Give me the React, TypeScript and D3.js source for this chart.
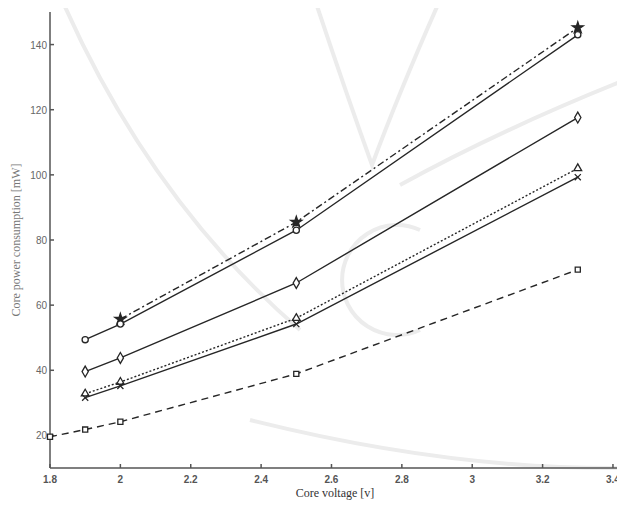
import { useEffect, useRef } from 'react';
import * as d3 from 'd3';

const xTicks = [1.8, 2, 2.2, 2.4, 2.6, 2.8, 3, 3.2, 3.4];
const yTicks = [20, 40, 60, 80, 100, 120, 140];

const starV = [2.0, 2.5, 3.3];
const starP = [55.7, 85.5, 145.2];
const voltages = [1.9, 2.0, 2.5, 3.3];
const circleP = [49.4, 54.2, 83.0, 143.0];
const diamondP = [39.6, 43.8, 66.8, 117.6];
const triangleP = [32.8, 36.4, 56.0, 102.0];
const crossP = [31.6, 35.2, 54.2, 99.3];
const squareV = [1.8, 1.9, 2.0, 2.5, 3.3];
const squareP = [19.6, 21.8, 24.2, 38.9, 70.9];

export default function App() {
  const svgRef = useRef<SVGSVGElement>(null);

  useEffect(() => {
    const svg = d3.select(svgRef.current);
    svg.selectAll('*').remove();

    const x = d3.scaleLinear().domain([1.8, 3.42]).range([50, 620]);
    const y = d3.scaleLinear().domain([10, 150]).range([468, 12]);
    const ink = '#262626';

    // faint watermark strokes
    const wm = svg.append('g').attr('fill', 'none').attr('stroke', '#ececec').attr('stroke-width', 4);
    wm.append('path').attr('d', 'M 62 0 Q 150 200 300 330');
    wm.append('path').attr('d', 'M 400 185 Q 500 130 625 80');
    wm.append('path').attr('d', 'M 250 420 Q 450 470 625 468');
    wm.append('path').attr('d', 'M 315 0 Q 345 90 372 165 Q 400 90 440 0');
    wm.append('path').attr('d', 'M 420 230 A 55 55 0 1 0 420 330');

    // axes
    const ax = svg.append('g').attr('stroke', '#555').attr('stroke-width', 1.5);
    ax.append('line').attr('x1', 50).attr('x2', 50).attr('y1', 12).attr('y2', 468);
    ax.append('line').attr('x1', 50).attr('x2', 625).attr('y1', 468).attr('y2', 468);
    ax.selectAll('.xt').data(xTicks).enter().append('line')
      .attr('x1', d => x(d)).attr('x2', d => x(d)).attr('y1', 468).attr('y2', 464);
    ax.selectAll('.yt').data(yTicks).enter().append('line')
      .attr('x1', 50).attr('x2', 54).attr('y1', d => y(d)).attr('y2', d => y(d));

    svg.selectAll('text.xl').data(xTicks).enter().append('text')
      .attr('class', 'xl')
      .attr('x', d => x(d)).attr('y', 483)
      .attr('text-anchor', 'middle')
      .attr('font-family', 'Liberation Sans, sans-serif')
      .attr('font-size', 10).attr('font-weight', 'bold').attr('fill', '#555')
      .text(d => String(d));
    svg.selectAll('text.yl').data(yTicks).enter().append('text')
      .attr('class', 'yl')
      .attr('x', 47).attr('y', d => y(d) + 4)
      .attr('text-anchor', 'end')
      .attr('font-family', 'Liberation Sans, sans-serif')
      .attr('font-size', 10).attr('fill', '#666')
      .text(d => String(d));

    svg.append('text')
      .attr('x', 335).attr('y', 497)
      .attr('text-anchor', 'middle')
      .attr('font-family', 'Liberation Serif, serif')
      .attr('font-size', 12).attr('fill', '#333')
      .text('Core voltage [v]');
    svg.append('text')
      .attr('transform', 'translate(20,240) rotate(-90)')
      .attr('text-anchor', 'middle')
      .attr('font-family', 'Liberation Serif, serif')
      .attr('font-size', 12).attr('fill', '#777')
      .text('Core power consumption [mW]');

    const line = d3.line<[number, number]>().x(d => x(d[0])).y(d => y(d[1]));
    const series = [
      { xs: starV, ys: starP, dash: '7,3,2,3', m: 'star', size: 38 },
      { xs: voltages, ys: circleP, dash: null, m: 'circle', size: 30 },
      { xs: voltages, ys: diamondP, dash: null, m: 'diamond', size: 34 },
      { xs: voltages, ys: triangleP, dash: '2,2', m: 'triangle', size: 26 },
      { xs: voltages, ys: crossP, dash: null, m: 'cross', size: 26 },
      { xs: squareV, ys: squareP, dash: '7,5', m: 'square', size: 26 },
    ];

    const symbols: Record<string, d3.SymbolType> = {
      star: d3.symbolStar,
      circle: d3.symbolCircle,
      diamond: d3.symbolDiamond,
      triangle: d3.symbolTriangle,
      cross: d3.symbolX,
      square: d3.symbolSquare,
    };

    series.forEach(s => {
      const pts = s.xs.map((v, i) => [v, s.ys[i]] as [number, number]);
      svg.append('path')
        .attr('d', line(pts))
        .attr('fill', 'none')
        .attr('stroke', ink)
        .attr('stroke-width', 1.4)
        .attr('stroke-dasharray', s.dash);
      svg.selectAll(null).data(pts).enter().append('path')
        .attr('transform', d => `translate(${x(d[0])},${y(d[1])})`)
        .attr('d', d3.symbol().type(symbols[s.m]).size(s.size)())
        .attr('fill', s.m === 'star' ? ink : 'white')
        .attr('stroke', ink)
        .attr('stroke-width', 1.3);
    });
  }, []);

  return <svg ref={svgRef} width={625} height={508} style={{ display: 'block', margin: -8 }}></svg>;
}
